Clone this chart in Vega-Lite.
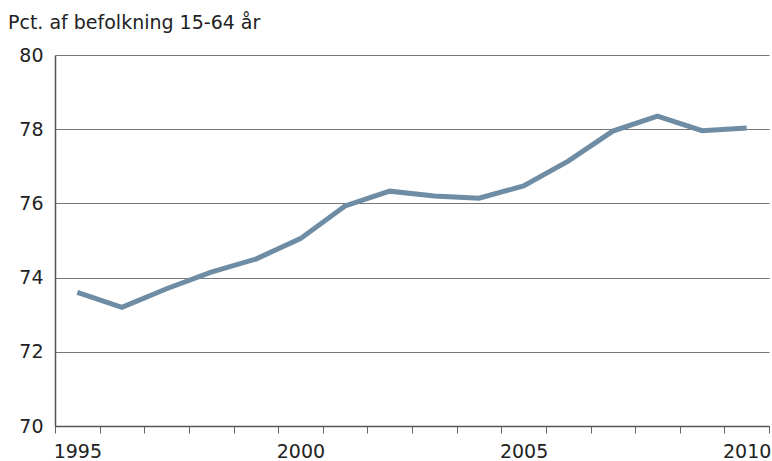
{
  "$schema": "https://vega.github.io/schema/vega-lite/v6.json",
  "autosize": {"type": "none"},
  "width": 714,
  "height": 371,
  "padding": {"left": 55, "top": 55, "right": 3, "bottom": 35},
  "background": "white",
  "title": {
    "text": "Pct. af befolkning 15-64 år",
    "anchor": "start",
    "frame": "group",
    "dx": -47,
    "offset": 13,
    "font": "DejaVu Sans",
    "fontSize": 19,
    "fontWeight": "normal",
    "color": "#222222"
  },
  "data": {
    "values": [
      {"year": 1995, "pct": 73.6},
      {"year": 1996, "pct": 73.2},
      {"year": 1997, "pct": 73.7},
      {"year": 1998, "pct": 74.15},
      {"year": 1999, "pct": 74.5},
      {"year": 2000, "pct": 75.05},
      {"year": 2001, "pct": 75.93},
      {"year": 2002, "pct": 76.33},
      {"year": 2003, "pct": 76.2},
      {"year": 2004, "pct": 76.14},
      {"year": 2005, "pct": 76.47},
      {"year": 2006, "pct": 77.14},
      {"year": 2007, "pct": 77.95},
      {"year": 2008, "pct": 78.35},
      {"year": 2009, "pct": 77.96},
      {"year": 2010, "pct": 78.03}
    ]
  },
  "mark": {"type": "line", "color": "#6e8ca3", "strokeWidth": 5, "strokeJoin": "miter", "strokeCap": "butt"},
  "encoding": {
    "x": {
      "field": "year",
      "type": "ordinal",
      "bandPosition": 0.5,
      "scale": {"type": "band", "paddingInner": 0, "paddingOuter": 0},
      "axis": {
        "title": null,
        "tickBand": "extent",
        "labelAngle": 0,
        "labelExpr": "datum.value % 5 == 0 ? datum.label : ''",
        "labelFont": "DejaVu Sans",
        "labelFontSize": 19,
        "labelColor": "#222222",
        "labelPadding": 9,
        "tickSize": 7,
        "tickColor": "#666666",
        "domainColor": "#555555",
        "domainWidth": 1.5,
        "grid": false
      }
    },
    "y": {
      "field": "pct",
      "type": "quantitative",
      "scale": {"domain": [70, 80], "nice": false, "zero": false},
      "axis": {
        "title": null,
        "values": [70, 72, 74, 76, 78, 80],
        "ticks": false,
        "labelFont": "DejaVu Sans",
        "labelFontSize": 19,
        "labelColor": "#222222",
        "labelPadding": 12,
        "domainColor": "#555555",
        "domainWidth": 1.5,
        "grid": true,
        "gridColor": "#777777",
        "gridWidth": 1
      }
    }
  },
  "config": {"view": {"stroke": null}}
}
